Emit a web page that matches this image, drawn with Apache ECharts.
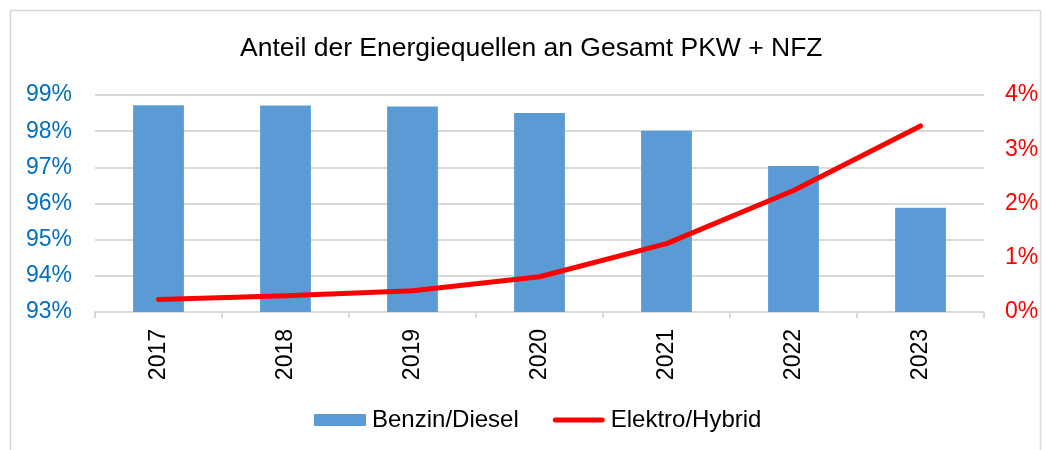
<!DOCTYPE html>
<html><head><meta charset="utf-8">
<script src="https://cdn.jsdelivr.net/npm/echarts@6/dist/echarts.min.js"></script>
<style>html,body{margin:0;padding:0;background:#fff}#c{width:1045px;height:450px}</style>
</head><body><div id="c"></div>
<script>
const years = ['2017','2018','2019','2020','2021','2022','2023'];
const benzinDiesel = [98.72, 98.71, 98.68, 98.50, 98.01, 97.04, 95.88];
const elektroHybrid = [0.23, 0.30, 0.39, 0.65, 1.26, 2.24, 3.43];
const leftTicks = [93, 94, 95, 96, 97, 98, 99];
const rightTicks = [0, 1, 2, 3, 4];

const chart = echarts.init(document.getElementById('c'));
const font = 'Liberation Sans, Arial, sans-serif';
chart.setOption({
  animation: false,
  graphic: [{type:'rect', shape:{x:10.5,y:10.5,width:1030,height:445}, style:{fill:'none', stroke:'#d9d9d9', lineWidth:1.5}, silent:true}],
  title: {text:'Anteil der Energiequellen an Gesamt PKW + NFZ', left:235, top:30,
    textStyle:{fontFamily:font, fontSize:26.5, fontWeight:'normal', color:'#000'}},
  legend: {bottom:13, left:309, itemGap:34, itemWidth:52, itemHeight:12,
    textStyle:{fontFamily:font, fontSize:24, color:'#000', padding:[0,0,0,1]},
    data:[{name:'Benzin/Diesel', icon:'rect'},
          {name:'Elektro/Hybrid', icon:'path://M2.5,0 L49.5,0 A2.5,2.5 0 0 1 49.5,5 L2.5,5 A2.5,2.5 0 0 1 2.5,0 Z'}]},
  grid: {left:95, right:61, top:95, bottom:138},
  xAxis: {type:'category', data:years,
    axisLine:{lineStyle:{color:'#d9d9d9', width:2}},
    axisTick:{show:true, length:6, lineStyle:{color:'#d9d9d9', width:2}},
    axisLabel:{rotate:90, margin:17, fontFamily:font, fontSize:23, color:'#000'}},
  yAxis: [
    {type:'value', min:93, max:99, interval:1,
     axisLabel:{formatter:v=>v+'%', fontFamily:font, fontSize:23, color:'#0070C0', margin:23},
     splitLine:{lineStyle:{color:'#d9d9d9', width:2}}, axisLine:{show:false}, axisTick:{show:false}},
    {type:'value', min:0, max:4, interval:1, position:'right',
     axisLabel:{formatter:v=>v+'%', fontFamily:font, fontSize:23, color:'#ff0000', margin:21},
     splitLine:{show:false}, axisLine:{show:false}, axisTick:{show:false}}
  ],
  series: [
    {name:'Benzin/Diesel', type:'bar', data:benzinDiesel, barWidth:'40%', yAxisIndex:0,
     itemStyle:{color:'#5b9bd5'}},
    {name:'Elektro/Hybrid', type:'line', data:elektroHybrid, yAxisIndex:1, symbol:'none',
     lineStyle:{color:'#ff0000', width:5, cap:'round', join:'round'}, itemStyle:{color:'#ff0000'}}
  ]
});
</script></body></html>
